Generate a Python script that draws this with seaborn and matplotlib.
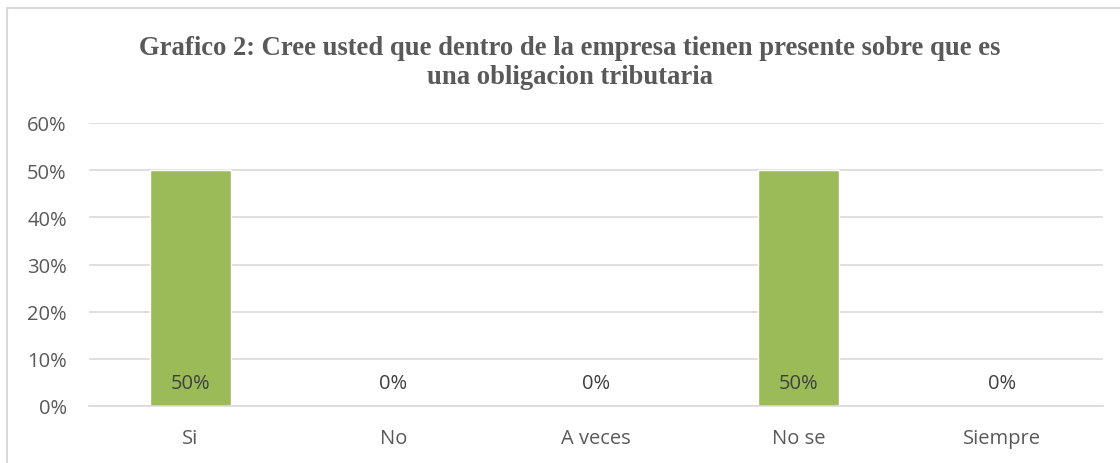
import matplotlib
matplotlib.use("Agg")
import matplotlib.pyplot as plt
import seaborn as sns
import pandas as pd
from matplotlib.patches import Rectangle
from matplotlib.ticker import FuncFormatter, MultipleLocator

categories = ["Si", "No", "A veces", "No se", "Siempre"]
values = [0.50, 0.00, 0.00, 0.50, 0.00]
title = "Grafico 2: Cree usted que dentro de la empresa tienen presente sobre que es\nuna obligacion tributaria"

sns.set_theme(style="white")
plt.rcParams['font.family'] = ['Open Sans', 'DejaVu Sans']

df = pd.DataFrame({"cat": categories, "val": values})

fig = plt.figure(figsize=(11.2, 4.64), dpi=100)
ax = fig.add_axes([89/1120, 1-407/464, (1103-89)/1120, (407-124)/464])

sns.barplot(data=df, x="cat", y="val", color="#9BBB59", saturation=1, width=0.4, ax=ax)

ax.set_ylim(0, 0.6)
ax.yaxis.set_major_locator(MultipleLocator(0.1))
ax.yaxis.set_major_formatter(FuncFormatter(lambda v, p: f"{v*100:.0f}%"))
ax.grid(axis="y", color="#d9d9d9", linewidth=1.2)
ax.set_axisbelow(True)
for s in ["top", "right", "left"]:
    ax.spines[s].set_visible(False)
ax.spines["bottom"].set_color("#d9d9d9")
ax.spines["bottom"].set_linewidth(1.2)
ax.set_xlabel("")
ax.set_ylabel("")
ax.tick_params(axis="both", length=0, labelsize=14.5, colors="#595959")
ax.tick_params(axis="y", pad=16)
ax.tick_params(axis="x", pad=15.5)

for i, v in enumerate(values):
    ax.annotate(f"{v*100:.0f}%", xy=(i, 0), xytext=(0, 23), textcoords="offset pixels",
                ha="center", va="center", fontsize=14.5, color="#404040")

fig.text(570/1120, 1-63/464, title, ha="center", va="center",
         family=["Liberation Serif", "DejaVu Serif"],
         fontweight="bold", fontsize=19.2, color="#595959", linespacing=1.25)

fig.patches.append(Rectangle((7/1120, -0.05), 1.2, 1-9/464+0.05, transform=fig.transFigure,
                             fill=False, edgecolor="#d9d9d9", linewidth=1.5))

fig.savefig("out.png", dpi=100)
